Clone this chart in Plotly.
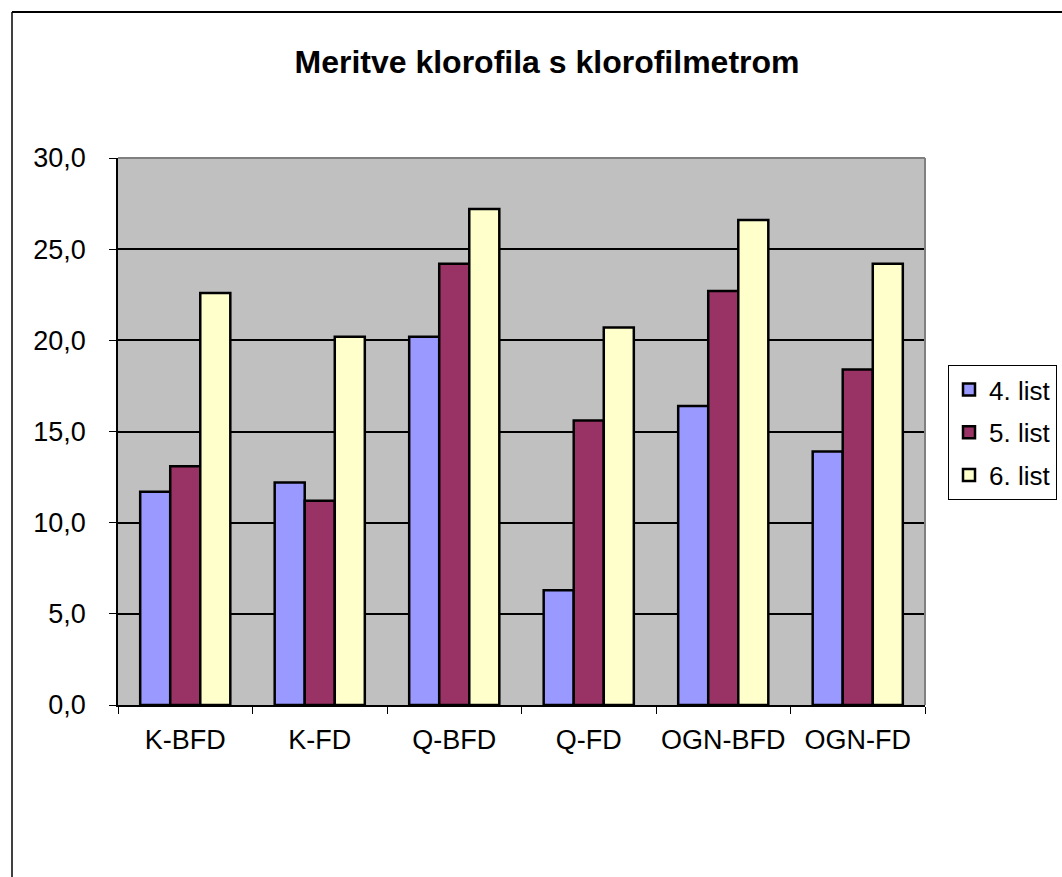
import plotly.graph_objects as go

# Chlorophyll meter readings per treatment and leaf
categories = ["K-BFD", "K-FD", "Q-BFD", "Q-FD", "OGN-BFD", "OGN-FD"]
list4 = [11.7, 12.2, 20.2, 6.3, 16.4, 13.9]
list5 = [13.1, 11.2, 24.2, 15.6, 22.7, 18.4]
list6 = [22.6, 20.2, 27.2, 20.7, 26.6, 24.2]
series_names = ["4. list", "5. list", "6. list"]
y_ticks = [0, 5, 10, 15, 20, 25, 30]

colors = ["#9999FF", "#993366", "#FFFFCC"]
FONT = "Liberation Sans, Arial, sans-serif"

W, H = 1062, 877
L, R, T, B = 118, 137, 158, 172
pw, ph = W - L - R, H - T - B


def px_x(p):
    return (p - L) / pw


def px_y(p):
    return (H - B - p) / ph


fig = go.Figure()
for name, vals, col in zip(series_names, [list4, list5, list6], colors):
    fig.add_trace(go.Bar(
        x=categories, y=vals, name=name, legendgroup=name,
        marker=dict(color=col, line=dict(color="black", width=2.5)),
    ))

fig.update_layout(
    width=W, height=H,
    margin=dict(l=L, r=R, t=T, b=B, autoexpand=False),
    paper_bgcolor="white",
    plot_bgcolor="#C0C0C0",
    separators=",.",
    barmode="group",
    bargap=0.33,
    bargroupgap=0,
    font=dict(family=FONT, size=27, color="black"),
    title=dict(
        text="<b>Meritve klorofila s klorofilmetrom</b>",
        x=px_x(547), xref="paper", xanchor="center",
        y=1 - 62 / H, yanchor="middle",
        font=dict(family=FONT, size=32, color="black"),
    ),
    xaxis=dict(
        type="category",
        showline=True, linecolor="black", linewidth=1.5,
        ticks="outside", ticklen=7, tickcolor="black", tickwidth=1,
        tickson="boundaries",
        tickangle=0,
        tickfont=dict(family=FONT, size=27),
        ticklabelstandoff=10,
        showgrid=False,
        zeroline=False,
    ),
    yaxis=dict(
        range=[0, 30],
        tickvals=y_ticks,
        tickformat=".1f",
        showline=True, linecolor="black", linewidth=1.5,
        ticks="outside", ticklen=7, tickcolor="black", tickwidth=1,
        tickfont=dict(family=FONT, size=27),
        showgrid=True, gridcolor="black", gridwidth=1.5,
        zeroline=False,
        ticklabelstandoff=18,
    ),
    legend=dict(
        x=px_x(948), y=px_y(365), xanchor="left", yanchor="top",
        bgcolor="white", bordercolor="black", borderwidth=1,
        font=dict(family=FONT, size=26),
        traceorder="grouped", tracegroupgap=6,
        itemwidth=30,
    ),
    showlegend=True,
)

# Grey frame on the top and right of the plot area
fig.add_shape(type="line", xref="paper", yref="paper",
              x0=0, x1=1, y0=1, y1=1, line=dict(color="#808080", width=2))
fig.add_shape(type="line", xref="paper", yref="paper",
              x0=1, x1=1, y0=0, y1=1, line=dict(color="#808080", width=2))

# Outer chart border (top and left edges)
fig.add_shape(type="line", xref="paper", yref="paper",
              x0=px_x(12), x1=px_x(W + 5), y0=px_y(12), y1=px_y(12),
              line=dict(color="black", width=2))
fig.add_shape(type="line", xref="paper", yref="paper",
              x0=px_x(12), x1=px_x(12), y0=px_y(12), y1=px_y(H + 5),
              line=dict(color="black", width=1.5))

fig.write_html("out.html")
